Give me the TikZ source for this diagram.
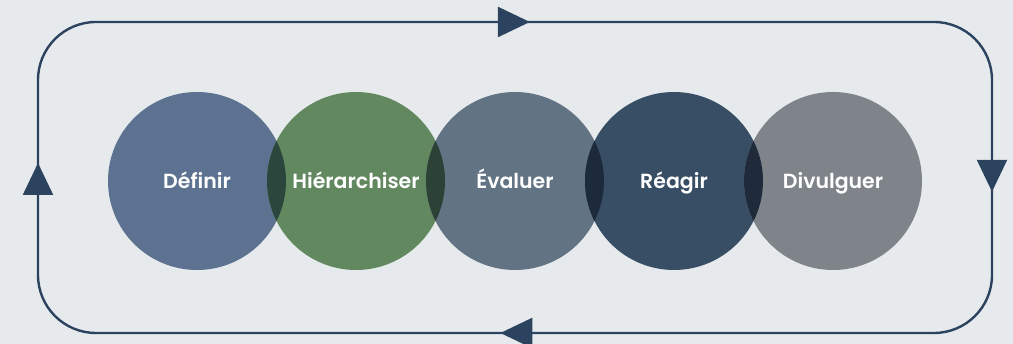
\documentclass[tikz,border=0pt]{standalone}
\usepackage{fontspec}
\setmainfont{Poppins}[BoldFont={* SemiBold}]
\usepackage{tikz}
\usetikzlibrary{arrows.meta}
\usetikzlibrary{decorations.markings}
\definecolor{bgc}{HTML}{E6EAED}
\definecolor{loopc}{HTML}{2C4360}
\definecolor{cdef}{HTML}{5C7290}
\definecolor{chie}{HTML}{628860}
\definecolor{ceva}{HTML}{627384}
\definecolor{crea}{HTML}{384E65}
\definecolor{cdiv}{HTML}{7F848B}
\definecolor{ldh}{HTML}{2A463D}
\definecolor{lhe}{HTML}{2C4236}
\definecolor{ler}{HTML}{1C2A3B}
\definecolor{lrd}{HTML}{1F2A3A}
\tikzset{>={Triangle[length=32pt,width=30pt]}}
\tikzstyle{stage} = [circle, minimum size=178pt, inner sep=0pt, text=white, text height=14.5pt, text depth=0pt, font=\fontsize{20.5}{24}\selectfont\bfseries]
\tikzstyle{loopline} = [draw=loopc, line width=2.4pt, rounded corners=58pt]

\begin{document}
\begin{tikzpicture}[x=1pt, y=1pt]
\useasboundingbox[fill=bgc] (0,0) rectangle (1013,344);
\node [stage, fill=cdef] (def) at (197,163) {Définir};
\node [stage, fill=chie] (hie) at (356,163) {Hiérarchiser};
\node [stage, fill=ceva] (eva) at (515,163) {Évaluer};
\node [stage, fill=crea] (rea) at (674,163) {Réagir};
\node [stage, fill=cdiv] (div) at (833,163) {Divulguer};
\foreach \a/\b/\c in {def/hie/ldh, hie/eva/lhe, eva/rea/ler, rea/div/lrd} {
  \begin{scope}
    \clip (\a.center) circle (89pt);
    \fill [\c] (\b.center) circle (89pt);
  \end{scope}
}
\coordinate (start) at (38,100);
\coordinate (tl) at (38,322);
\coordinate (tr) at (992,322);
\coordinate (br) at (992,11);
\coordinate (bl) at (38,11);
\draw [loopline, postaction={decorate, decoration={markings,
    mark=at position 81pt with {\arrow[loopc]{>}},
    mark=at position 689pt with {\arrow[loopc]{>}},
    mark=at position 1296pt with {\arrow[loopc]{>}},
    mark=at position 1904pt with {\arrow[loopc]{>}}}}]
  (start) -- (tl) -- (tr) -- (br) -- (bl) -- (start);
\end{tikzpicture}
\end{document}
